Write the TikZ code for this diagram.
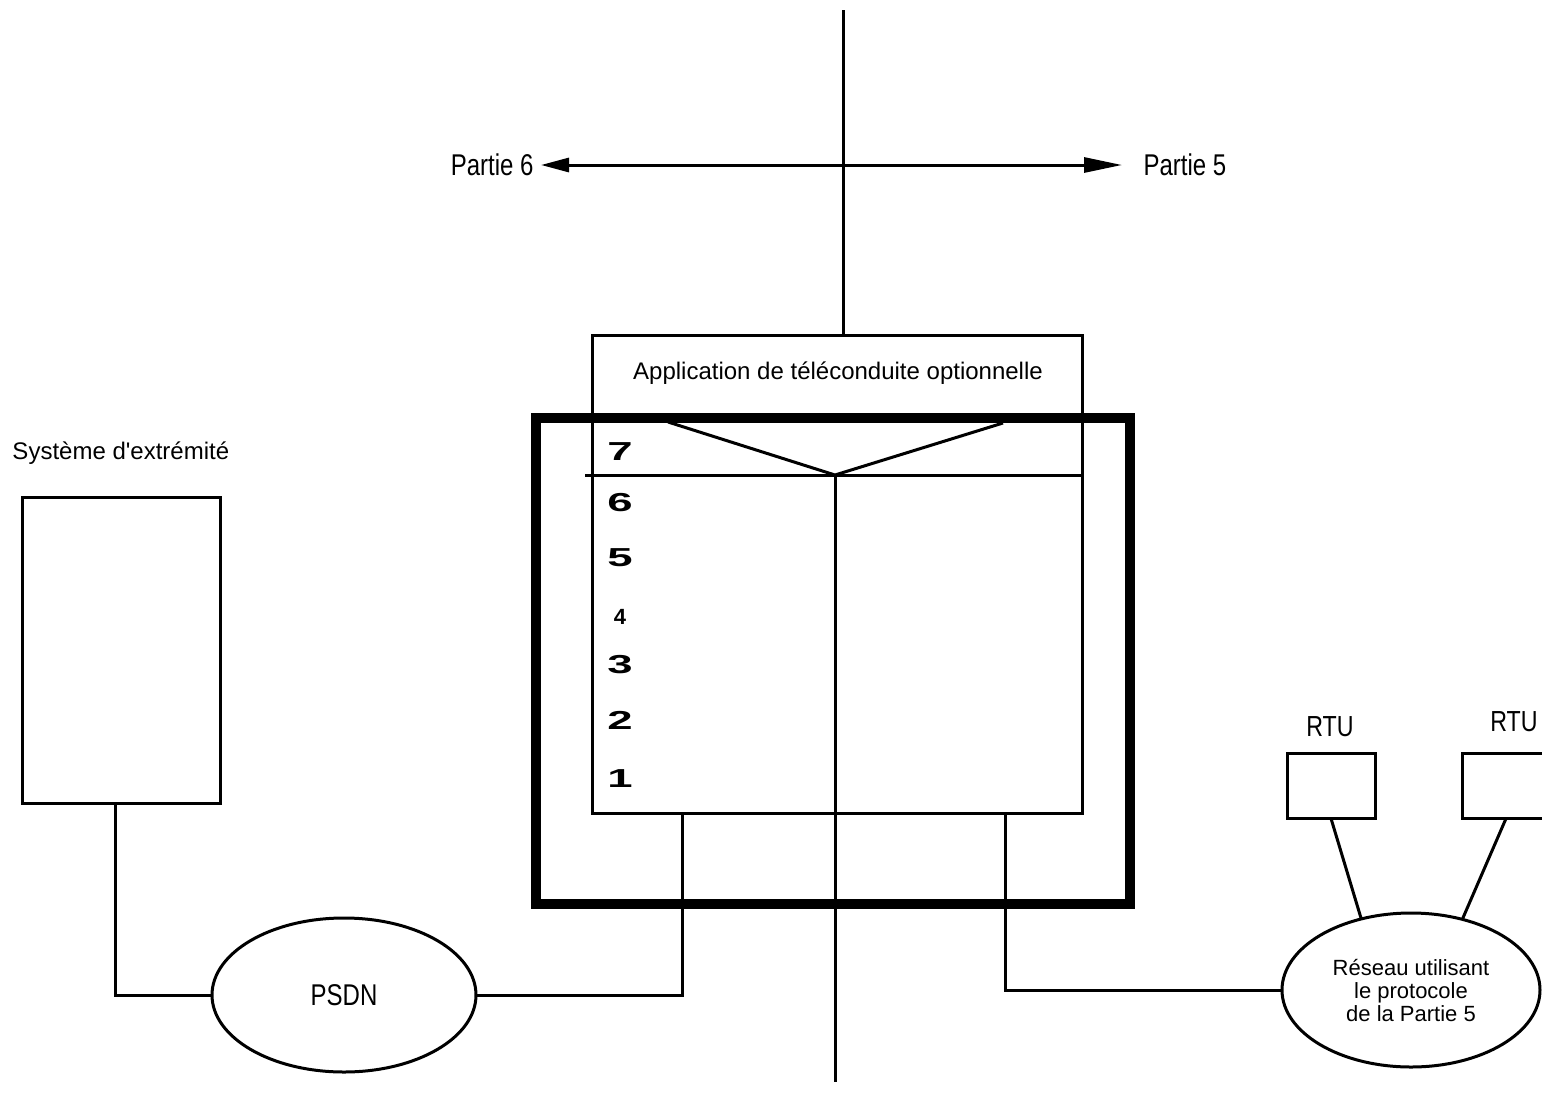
\documentclass[tikz,border=0pt]{standalone}
\usepackage{fontspec}
\setmainfont{Liberation Sans}
\newfontfamily\plainfont[Ligatures=TeXOff]{Liberation Sans}
\newfontfamily\narrowfont[FakeStretch=0.8]{Liberation Sans}
\newfontfamily\widefont[FakeStretch=1.75]{Liberation Sans}
\usetikzlibrary{shapes.geometric,arrows.meta}
\begin{document}
\begin{tikzpicture}[x=1pt,y=-1pt,line width=3pt,
  boxnode/.style={draw,rectangle,inner sep=0pt,outer sep=0pt},
  ellnode/.style={draw,ellipse,inner sep=0pt,outer sep=0pt},
  lbl/.style={inner sep=0pt,font=\fontsize{24}{26}\selectfont},
  narrowlbl/.style={inner sep=0pt,font=\narrowfont\fontsize{30}{32}\selectfont},
  digit/.style={inner sep=0pt,font=\widefont\bfseries\fontsize{26}{28}\selectfont}]
\clip (0,0) rectangle (1542,1095);
\fill[white] (0,0) rectangle (1542,1095);

% top vertical line and arrow
\node[narrowlbl,anchor=east] (p6) at (535,165) {Partie 6};
\node[narrowlbl,anchor=west] (p5) at (1142,165) {Partie 5};
\coordinate (ltip) at (541,165);
\coordinate (rtip) at (1122,165);
\coordinate (topend) at (843,10);
\draw[{Triangle[length=28pt,width=14pt]}-{Triangle[length=38pt,width=15pt]}] (ltip) -- (rtip);

% application box
\node[boxnode,minimum width=490,minimum height=478] (app) at (837,574) {};
\node[lbl] (apptitle) at (838,373) {Application de téléconduite optionnelle};
\draw (topend) -- (topend |- app.north);

% separator 7/6 and V
\coordinate (sepL) at (585,475);
\coordinate (sepR) at (1082,475);
\coordinate (vL) at (668,422);
\coordinate (vR) at (1003,423);
\coordinate (vtip) at (835,475);
\coordinate (botend) at (835,1082);
\draw (sepL) -- (sepR);
\draw (vL) -- (vtip) -- (vR);
\draw (vtip) -- (botend);

% thick frame
\node[boxnode,line width=10pt,minimum width=594,minimum height=486] (frame) at (833,661) {};

% layer numbers
\node[digit] (d7) at (620,452) {7};
\node[digit] (d6) at (620,503) {6};
\node[digit] (d5) at (620,558) {5};
\node[inner sep=0pt,font=\bfseries\fontsize{22}{24}\selectfont] (d4) at (620,617) {4};
\node[digit] (d3) at (620,665) {3};
\node[digit] (d2) at (620,720) {2};
\node[digit] (d1) at (620,779) {1};

% end system
\node[lbl,anchor=west,font=\plainfont\fontsize{24}{26}\selectfont] (sys) at (11,453) {Système d'extrémité};
\node[boxnode,minimum width=198,minimum height=306] (es) at (121,650) {};

% PSDN
\node[ellnode,minimum width=264,minimum height=154,font=\narrowfont\fontsize{30}{32}\selectfont] (psdn) at (344,995) {PSDN};

% network ellipse
\node[ellnode,minimum width=258,minimum height=154,align=center,
      font=\fontsize{22}{23}\selectfont] (res) at (1411,990)
      {Réseau utilisant\\le protocole\\de la Partie 5};

% RTUs
\node[boxnode,minimum width=88,minimum height=65] (rtu1) at (1331,786) {};
\node[boxnode,minimum width=88,minimum height=65] (rtu2) at (1506,786) {};
\node[inner sep=0pt,font=\narrowfont\fontsize{29}{31}\selectfont] (rl1) at (1330,727) {RTU};
\node[inner sep=0pt,font=\narrowfont\fontsize{29}{31}\selectfont] (rl2) at (1514,722) {RTU};
\draw (rtu1.south) -- (res.125);
\draw (rtu2.south) -- (res.54);

% connectors
\coordinate (appL) at (682,813);
\coordinate (appR) at (1005,813);
\draw ([xshift=-6pt]es.south) |- (psdn.west);
\draw (psdn.east) -| (appL);
\draw (appR) |- (res.west);
\end{tikzpicture}
\end{document}
